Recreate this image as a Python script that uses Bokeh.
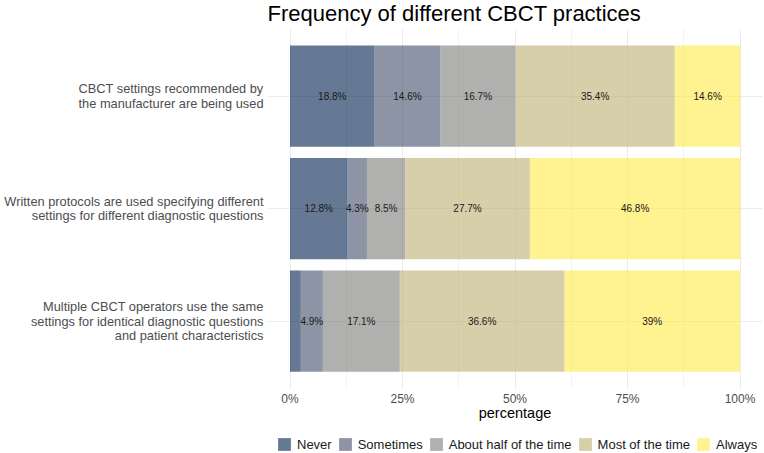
from bokeh.plotting import figure
from bokeh.layouts import column
from bokeh.models import (Range1d, FixedTicker, PrintfTickFormatter, Legend,
                          LegendItem, ColumnDataSource)
from bokeh.core.properties import value
from bokeh.embed import file_html
from bokeh.resources import INLINE

# Survey statements, top to bottom
statements = [
    "CBCT settings recommended by\nthe manufacturer are being used",
    "Written protocols are used specifying different\nsettings for different diagnostic questions",
    "Multiple CBCT operators use the same\nsettings for identical diagnostic questions\nand patient characteristics",
]

# Answer levels and their share (%) per statement
levels = ["Never", "Sometimes", "About half of the time", "Most of the time", "Always"]
never = [18.8, 12.8, 2.4]
sometimes = [14.6, 4.3, 4.9]
about_half = [16.7, 8.5, 17.1]
most_of_time = [35.4, 27.7, 36.6]
always = [14.6, 46.8, 39.0]

# x-axis ticks
x_ticks = [0, 25, 50, 75, 100]
x_minor = [12.5, 37.5, 62.5, 87.5]

# cividis palette, drawn semi-transparent
colors = ["#00204D", "#414D6B", "#7C7B78", "#BCAF6F", "#FFEA46"]
ALPHA = 0.6

FONT = "Liberation Sans"

series = [never, sometimes, about_half, most_of_time, always]
n = len(statements)
ypos = [n - i for i in range(n)]  # first statement on top

data = {"y": ypos}
for name, vals in zip(levels, series):
    data[name] = vals
source = ColumnDataSource(data)

p = figure(width=764, height=430, output_backend="svg", toolbar_location=None,
           x_range=Range1d(-5, 105), y_range=Range1d(0.4, n + 0.6),
           min_border_left=267, min_border_right=2, min_border_top=28,
           min_border_bottom=42)
p.outline_line_color = None
p.background_fill_color = "white"
p.border_fill_color = "white"

p.hbar_stack(levels, y="y", height=0.9, color=colors, fill_alpha=ALPHA,
             line_color=None, source=source)

# Percentage labels centred in each segment (tiny segments are left unlabelled)
lx, ly, lt = [], [], []
for row in range(n):
    left = 0.0
    for vals in series:
        v = vals[row]
        if v >= 3:
            lx.append(left + v / 2)
            ly.append(ypos[row])
            lt.append(f"{v:g}%")
        left += v
p.text(x=lx, y=ly, text=lt, text_align="center", text_baseline="middle",
       text_font=value(FONT), text_font_size="10px", text_color="#1a1a1a")

# Title
p.title.text = "Frequency of different CBCT practices"
p.title.align = "left"
p.title.vertical_align = "top"
p.title.text_font = FONT
p.title.text_font_size = "22px"
p.title.text_font_style = "normal"
p.title.text_color = "black"
p.title.standoff = 1

# Grid
p.xgrid.ticker = FixedTicker(ticks=x_ticks, minor_ticks=x_minor)
p.xgrid.grid_line_color = "#EBEBEB"
p.xgrid.grid_line_width = 1
p.xgrid.minor_grid_line_color = "#EBEBEB"
p.xgrid.minor_grid_line_width = 0.6
p.ygrid.ticker = FixedTicker(ticks=ypos)
p.ygrid.grid_line_color = "#EBEBEB"
p.ygrid.grid_line_width = 1

# x axis
xa = p.xaxis[0]
xa.ticker = FixedTicker(ticks=x_ticks)
xa.formatter = PrintfTickFormatter(format="%d%%")
xa.axis_line_color = None
xa.major_tick_line_color = None
xa.minor_tick_line_color = None
xa.major_tick_out = 0
xa.major_tick_in = 0
xa.major_label_standoff = 3
xa.major_label_text_font = FONT
xa.major_label_text_font_size = "12px"
xa.major_label_text_color = "#4D4D4D"
xa.axis_label = "percentage"
xa.axis_label_text_font = FONT
xa.axis_label_text_font_size = "14.5px"
xa.axis_label_text_font_style = "normal"
xa.axis_label_text_color = "black"
xa.axis_label_standoff = -4

# y axis with statement labels
ya = p.yaxis[0]
ya.ticker = FixedTicker(ticks=ypos)
ya.major_label_overrides = {y: s for y, s in zip(ypos, statements)}
ya.axis_line_color = None
ya.major_tick_line_color = None
ya.minor_tick_line_color = None
ya.major_tick_out = 0
ya.major_tick_in = 0
ya.major_label_standoff = 4
ya.major_label_text_font = FONT
ya.major_label_text_font_size = "12.8px"
ya.major_label_text_color = "#4D4D4D"
ya.major_label_text_line_height = 0.95

# Legend strip underneath; its swatch renderers share the bar data but stay hidden
lf = figure(width=764, height=23, output_backend="svg", toolbar_location=None,
            x_axis_type=None, y_axis_type=None, min_border=0,
            x_range=Range1d(-5, 105), y_range=Range1d(0.4, n + 0.6))
lf.outline_line_color = None
lf.grid.visible = False
swatches = lf.hbar_stack(levels, y="y", height=0.9, color=colors, fill_alpha=ALPHA,
                         line_color=None, source=source)
for r in swatches:
    r.visible = False
legend = Legend(items=[LegendItem(label=l, renderers=[r]) for l, r in zip(levels, swatches)],
                orientation="horizontal", location=(9, 1),
                glyph_width=16, glyph_height=16, label_height=16, label_width=10,
                label_standoff=5, spacing=5, padding=0, margin=0,
                label_text_font=FONT, label_text_font_size="13px",
                label_text_color="#1a1a1a", border_line_color=None,
                background_fill_alpha=0, inactive_fill_alpha=0,
                click_policy="none")
lf.add_layout(legend)

layout = column(p, lf, spacing=0)
open("out.html", "w").write(file_html(layout, INLINE))
